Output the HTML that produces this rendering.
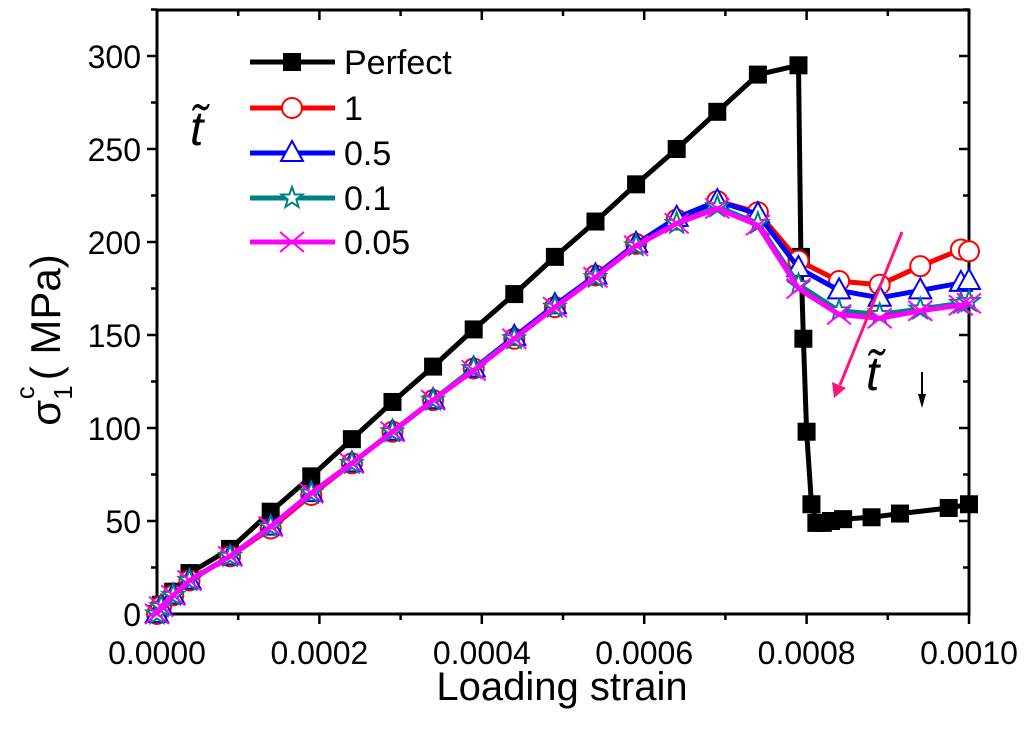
<!DOCTYPE html>
<html><head><meta charset="utf-8"><style>
body{margin:0;background:#fff}
svg{display:block}
text{font-family:"Liberation Sans",sans-serif}
</style></head><body>
<svg id="c" width="1024" height="745" xmlns="http://www.w3.org/2000/svg">
<g id="frame"></g>
<g id="marks"></g>
<g id="legend"></g>
<text x="562" y="700" font-size="40" text-anchor="middle">Loading strain</text>
<g transform="translate(60,340) rotate(-90)">
<text x="0" y="0" font-size="42" text-anchor="middle">σ<tspan font-size="26" dy="12">1</tspan><tspan font-size="26" dy="-38" dx="-14">c</tspan><tspan dy="26" dx="6">( MPa)</tspan></text>
</g>
<text x="190" y="145" font-size="48" font-style="italic" font-family="Liberation Serif,serif">t̃</text>
<text x="866" y="390" font-size="48" font-style="italic" font-family="Liberation Serif,serif">t̃</text>
<g>
<line x1="922" y1="372" x2="922" y2="404" stroke="#000" stroke-width="2"/>
<polygon points="918,394 926,394 922,408" fill="#000"/>
</g>
<g>
<line x1="902" y1="232" x2="840" y2="385" stroke="#ff1478" stroke-width="3"/>
<polygon points="832,382 846,388 834,398" fill="#ff1478"/>
</g>
</svg>
<script>
const strainPerfect=[0,0.05,0.2,0.4,0.9,1.4,1.9,2.4,2.9,3.4,3.9,4.4,4.9,5.4,5.9,6.4,6.9,7.4,7.9,7.93,7.96,8.0,8.06,8.12,8.2,8.3,8.45,8.8,9.15,9.75,10.0];
const stressPerfect=[0,5,12,22,35,55,74,94,114,133,153,172,192,211,231,250,270,290,295,192,148,98,59,49,49,50,51,52,54,57,59];
const strainT=[0,0.05,0.2,0.4,0.9,1.4,1.9,2.4,2.9,3.4,3.9,4.4,4.9,5.4,5.9,6.4,6.9,7.4,7.9,8.4,8.9,9.4,9.9,10.0];
const stressT1=[0,4,10,18,31,46,64,81,98,115,132,148,165,182,199,212,222,216,190,179,177,187,196,195];
const stressT05=[0,4,10,18,31,47,65,81,98,115,132,149,166,182,199,213,222,215,186,174,170,174,178,179];
const stressT01=[0,4,10,18,31,47,65,81,98,115,132,148,165,181,198,210,219,210,177,163,161,164,167,168];
const stressT005=[0,4,10,18,31,47,65,81,98,115,131,148,165,181,198,210,218,209,175,161,159,163,166,167];
const xTicks=["0.0000","0.0002","0.0004","0.0006","0.0008","0.0010"];
const yTicks=[0,50,100,150,200,250,300];
const legendLabels=["Perfect","1","0.5","0.1","0.05"];
const NS="http://www.w3.org/2000/svg";
const X0=157,X1=969,Y0=614,YT=10;
const xs=v=>X0+v/10*(X1-X0);
const ys=v=>Y0-v*1.86;
function mk(t,a,p){const e=document.createElementNS(NS,t);for(const k in a)e.setAttribute(k,a[k]);p.appendChild(e);return e;}
const fr=document.getElementById('frame');
mk('path',{d:`M${X0},${YT}H${X1}V${Y0}H${X0}Z`,fill:'none',stroke:'#000','stroke-width':3},fr);
for(let i=0;i<=10;i++){const x=xs(i);const L=i%2?6:10;
 mk('line',{x1:x,y1:Y0,x2:x,y2:Y0+L,stroke:'#000','stroke-width':2.5},fr);
 mk('line',{x1:x,y1:YT,x2:x,y2:YT+L,stroke:'#000','stroke-width':2.5},fr);}
xTicks.forEach((t,i)=>{const e=mk('text',{x:xs(i*2),y:664,'font-size':32,'text-anchor':'middle'},fr);e.textContent=t;

});
for(let v=0;v<=325;v+=25){const y=ys(v);const L=v%50?6:10;
 mk('line',{x1:X0,y1:y,x2:X0-L,y2:y,stroke:'#000','stroke-width':2.5},fr);
 mk('line',{x1:X1,y1:y,x2:X1-L,y2:y,stroke:'#000','stroke-width':2.5},fr);}
yTicks.forEach(v=>{const e=mk('text',{x:141,y:ys(v)+12,'font-size':32,'text-anchor':'end'},fr);e.textContent=v;

});
function marker(type,color,x,y,g){
 if(type==='sq')mk('rect',{x:x-9,y:y-9,width:18,height:18,fill:'#000'},g);
 else if(type==='circ')mk('circle',{cx:x,cy:y,r:10,fill:'#fff',stroke:color,'stroke-width':2},g);
 else if(type==='tri')mk('polygon',{points:`${x},${y-12} ${x-11},${y+8} ${x+11},${y+8}`,fill:'#fff',stroke:color,'stroke-width':2},g);
 else if(type==='star'){let p=[];for(let k=0;k<10;k++){const r=k%2?4.5:11,a=-Math.PI/2+k*Math.PI/5;p.push((x+r*Math.cos(a)).toFixed(1)+','+(y+r*Math.sin(a)).toFixed(1));}
  mk('polygon',{points:p.join(' '),fill:'#fff',stroke:color,'stroke-width':2},g);}
 else if(type==='x'){mk('path',{d:`M${x-12},${y-10}L${x+12},${y+10}M${x-12},${y+10}L${x+12},${y-10}`,stroke:color,'stroke-width':2},g);}
}
const series=[
 {n:'perfect',sx:strainPerfect,sy:stressPerfect,c:'#000',m:'sq'},
 {n:'t-1',sx:strainT,sy:stressT1,c:'#ff0000',m:'circ'},
 {n:'t-0.5',sx:strainT,sy:stressT05,c:'#0000ff',m:'tri'},
 {n:'t-0.1',sx:strainT,sy:stressT01,c:'#008080',m:'star'},
 {n:'t-0.05',sx:strainT,sy:stressT005,c:'#ff00ff',m:'x'}];
const mg=document.getElementById('marks');
series.forEach(s=>{const g=mk('g',{},mg);
 
 
 const d=s.sx.map((v,i)=>(i?'L':'M')+xs(v).toFixed(1)+','+ys(s.sy[i]).toFixed(1)).join('');
 mk('path',{d:d,fill:'none',stroke:s.c,'stroke-width':5,'stroke-linejoin':'round'},g);});
series.forEach((s,j)=>{const g=mg.children[j];s.sx.forEach((v,i)=>marker(s.m,s.c,xs(v),ys(s.sy[i]),g));});
const lg=document.getElementById('legend');
const ly=[62,108,153,198,242];
series.forEach((s,i)=>{const g=mk('g',{},lg);
 
 
 mk('line',{x1:250,y1:ly[i],x2:335,y2:ly[i],stroke:s.c,'stroke-width':5},g);
 marker(s.m,s.c,292,ly[i],g);
 const t=mk('text',{x:344,y:ly[i]+12,'font-size':34},g);t.textContent=legendLabels[i];});
</script>
</body></html>
